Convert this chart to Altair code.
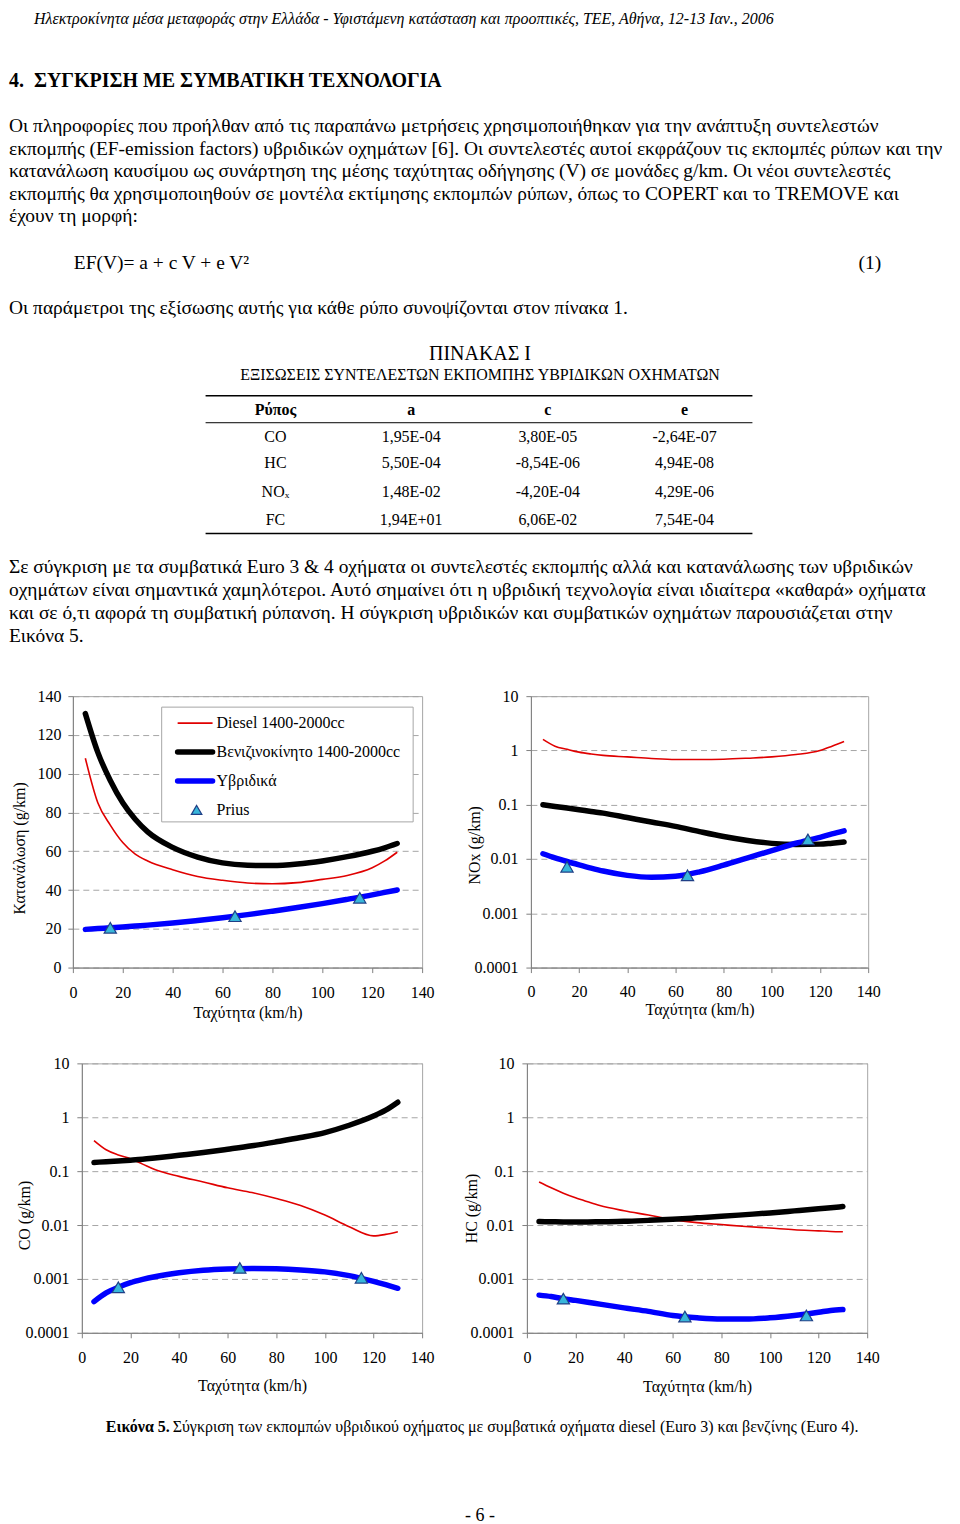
import altair as alt
import pandas as pd

FONT = "Liberation Serif"

# ---------------- chart data ----------------
speeds = [5, 10, 15, 20, 25, 30, 40, 50, 60, 70, 80, 90, 100, 110, 120, 125, 130]
prius_speeds = [15, 65, 115]

series_names = ["Diesel 1400-2000cc", "Βενιζινοκίνητο 1400-2000cc", "Υβριδικά", "Prius"]

# Fuel consumption (g/km)
fc_diesel = [108, 85, 73.5, 64.5, 58.5, 55, 50.5, 47, 45, 43.6, 43.2, 43.8, 45.5, 47.5, 51.5, 55, 59.5]
fc_petrol = [131, 111, 96.5, 85, 76.5, 70, 62, 57, 54, 52.8, 52.6, 53.4, 55, 57.2, 60, 61.8, 64]
fc_hybrid = [19.7, 20.1, 20.5, 20.9, 21.4, 21.9, 23.0, 24.3, 25.7, 27.3, 29.1, 31.0, 33.0, 35.2, 37.5, 38.8, 40.0]
fc_prius = [20.5, 26.5, 36]

# NOx (g/km)
nox_diesel = [1.6, 1.2, 1.05, 0.93, 0.86, 0.81, 0.76, 0.71, 0.68, 0.68, 0.69, 0.72, 0.76, 0.84, 1.0, 1.2, 1.46]
nox_petrol = [0.1, 0.093, 0.087, 0.081, 0.075, 0.07, 0.058, 0.048, 0.040, 0.032, 0.026, 0.022, 0.0194, 0.0185, 0.0188, 0.0196, 0.0205]
nox_hybrid = [0.0125, 0.0105, 0.009, 0.0078, 0.0068, 0.006, 0.005, 0.0046, 0.0048, 0.0058, 0.0077, 0.0105, 0.0143, 0.0195, 0.025, 0.029, 0.033]
nox_prius = [0.0072, 0.005, 0.023]

# CO (g/km)
co_diesel = [0.37, 0.25, 0.2, 0.17, 0.135, 0.107, 0.08, 0.063, 0.049, 0.04, 0.031, 0.023, 0.0153, 0.0093, 0.0063, 0.0067, 0.0075]
co_petrol = [0.145, 0.15, 0.155, 0.16, 0.166, 0.175, 0.197, 0.222, 0.255, 0.295, 0.35, 0.42, 0.52, 0.71, 1.05, 1.35, 1.9]
co_hybrid = [0.00038, 0.00055, 0.0007, 0.00085, 0.00098, 0.0011, 0.0013, 0.00145, 0.00153, 0.00156, 0.00154, 0.00147, 0.00135, 0.00115, 0.0009, 0.00078, 0.00067]
co_prius = [0.0007, 0.0016, 0.00105]

# HC (g/km)
hc_diesel = [0.063, 0.049, 0.039, 0.032, 0.027, 0.023, 0.0184, 0.0153, 0.0126, 0.0111, 0.0102, 0.0094, 0.0088, 0.0082, 0.0078, 0.0076, 0.0075]
hc_petrol = [0.0116, 0.0115, 0.0114, 0.0114, 0.0114, 0.0115, 0.0117, 0.0122, 0.0128, 0.0136, 0.0145, 0.0156, 0.0168, 0.0183, 0.02, 0.021, 0.022]
hc_hybrid = [0.0005, 0.00047, 0.00043, 0.0004, 0.00037, 0.00034, 0.00029, 0.00025, 0.00021, 0.00019, 0.00018, 0.00018, 0.00019, 0.00021, 0.00024, 0.00026, 0.00027]
hc_prius = [0.00043, 0.0002, 0.00021]

# ---------------- page text ----------------
header_text = "Ηλεκτροκίνητα μέσα μεταφοράς στην Ελλάδα - Υφιστάμενη κατάσταση και προοπτικές, ΤΕΕ, Αθήνα, 12-13 Ιαν., 2006"
section_title = "4.\u00a0\u00a0ΣΥΓΚΡΙΣΗ ΜΕ ΣΥΜΒΑΤΙΚΗ ΤΕΧΝΟΛΟΓΙΑ"
para1_lines = [
    "Οι πληροφορίες που προήλθαν από τις παραπάνω μετρήσεις χρησιμοποιήθηκαν για την ανάπτυξη συντελεστών",
    "εκπομπής (EF-emission factors) υβριδικών οχημάτων [6]. Οι συντελεστές αυτοί εκφράζουν τις εκπομπές ρύπων και την",
    "κατανάλωση καυσίμου ως συνάρτηση της μέσης ταχύτητας οδήγησης (V) σε μονάδες g/km. Οι νέοι συντελεστές",
    "εκπομπής θα χρησιμοποιηθούν σε μοντέλα εκτίμησης εκπομπών ρύπων, όπως το COPERT και το TREMOVE και",
    "έχουν τη μορφή:",
]
equation_text = "EF(V)= a + c V + e V²"
equation_number = "(1)"
table_intro = "Οι παράμετροι της εξίσωσης αυτής για κάθε ρύπο συνοψίζονται στον πίνακα 1."
table_title = "ΠΙΝΑΚΑΣ Ι"
table_subtitle = "ΕΞΙΣΩΣΕΙΣ ΣΥΝΤΕΛΕΣΤΩΝ ΕΚΠΟΜΠΗΣ ΥΒΡΙΔΙΚΩΝ ΟΧΗΜΑΤΩΝ"
table_header = ["Ρύπος", "a", "c", "e"]
table_pollutants = ["CO", "HC", "NOₓ", "FC"]
table_a = ["1,95E-04", "5,50E-04", "1,48E-02", "1,94E+01"]
table_c = ["3,80E-05", "-8,54E-06", "-4,20E-04", "6,06E-02"]
table_e = ["-2,64E-07", "4,94E-08", "4,29E-06", "7,54E-04"]
para2_lines = [
    "Σε σύγκριση με τα συμβατικά Euro 3 & 4 οχήματα οι συντελεστές εκπομπής αλλά και κατανάλωσης των υβριδικών",
    "οχημάτων είναι σημαντικά χαμηλότεροι. Αυτό σημαίνει ότι η υβριδική τεχνολογία είναι ιδιαίτερα «καθαρά» οχήματα",
    "και σε ό,τι αφορά τη συμβατική ρύπανση. Η σύγκριση υβριδικών και συμβατικών οχημάτων παρουσιάζεται στην",
    "Εικόνα 5.",
]
caption_bold = "Εικόνα 5."
caption_rest = "Σύγκριση των εκπομπών υβριδικού οχήματος με συμβατικά οχήματα diesel (Euro 3) και βενζίνης (Euro 4)."
page_number = "- 6 -"

x_title = "Ταχύτητα (km/h)"

RED = "#E00000"
BLACK = "#000000"
BLUE = "#0000FF"
PRIUS_FILL = "#38B6DA"
PRIUS_STROKE = "#1F3F86"
GRID = "#A6A6A6"
AXIS = "#808080"


def one_row():
    return pd.DataFrame({"k": [0]})


def text_layer(df, **kw):
    return alt.Chart(df).mark_text(font=FONT, color="black", **kw).encode(
        x=alt.X("x:Q", scale=None, axis=None),
        y=alt.Y("y:Q", scale=None, axis=None),
        text="text:N",
    )


def panel(diesel, petrol, hybrid, prius, y_title, log, w, h,
          ytitle_x, ytitle_y, xtitle_y, xlab_pad, ylab_pad, legend=False):
    rows = []
    for name, vals in zip(series_names[:3], [diesel, petrol, hybrid]):
        for s, v in zip(speeds, vals):
            rows.append({"speed": s, "value": v, "series": name})
    df = pd.DataFrame(rows)
    pdf = pd.DataFrame({"speed": prius_speeds, "value": prius})

    if log:
        yscale = alt.Scale(type="log", domain=[0.0001, 10], nice=False)
        yvals = [0.0001, 0.001, 0.01, 0.1, 1, 10]
        fmt = "~g"
    else:
        yscale = alt.Scale(domain=[0, 140], nice=False, zero=True)
        yvals = list(range(0, 141, 20))
        fmt = "d"

    xenc = alt.X(
        "speed:Q",
        scale=alt.Scale(domain=[0, 140], nice=False),
        axis=alt.Axis(
            values=list(range(0, 141, 20)), format="d", title=x_title, grid=False,
            tickSize=5, tickColor=AXIS, domainColor=AXIS, labelFlush=False,
            labelOverlap=False, labelPadding=xlab_pad, labelFont=FONT, labelFontSize=16,
            labelColor="black", titleFont=FONT, titleFontSize=16, titleFontWeight="normal",
            titleColor="black", titleY=xtitle_y, titleBaseline="top",
        ),
    )
    yenc = alt.Y(
        "value:Q",
        scale=yscale,
        axis=alt.Axis(
            values=yvals, format=fmt, title=y_title, grid=True, gridColor=GRID,
            gridDash=[6, 4], gridWidth=1, tickSize=5, tickColor=AXIS, domainColor=AXIS,
            labelOverlap=False, labelPadding=ylab_pad, labelFont=FONT, labelFontSize=16,
            labelColor="black", titleFont=FONT, titleFontSize=16, titleFontWeight="normal",
            titleColor="black", titleX=ytitle_x, titleY=ytitle_y,
        ),
    )
    base = alt.Chart(df).encode(x=xenc, y=yenc, order="speed:Q")
    red = base.transform_filter(alt.datum.series == series_names[0]).mark_line(
        color=RED, strokeWidth=1.6, interpolate="monotone")
    blk = base.transform_filter(alt.datum.series == series_names[1]).mark_line(
        color=BLACK, strokeWidth=5.5, interpolate="monotone", strokeCap="round")
    blu = base.transform_filter(alt.datum.series == series_names[2]).mark_line(
        color=BLUE, strokeWidth=5.5, interpolate="monotone", strokeCap="round")
    pts = alt.Chart(pdf).mark_point(
        shape="triangle-up", filled=True, fill=PRIUS_FILL, stroke=PRIUS_STROKE,
        strokeWidth=1.2, size=150, opacity=1,
    ).encode(x=xenc, y=yenc)
    layers = [red, blk, blu, pts]

    if legend:
        box = alt.Chart(one_row()).mark_rect(fill="white", stroke="#A6A6A6", strokeWidth=1).encode(
            x=alt.value(89), x2=alt.value(341), y=alt.value(11), y2=alt.value(126))
        layers.append(box)
        styles = [(RED, 1.6), (BLACK, 5.5), (BLUE, 5.5)]
        for i, name in enumerate(series_names):
            yy = 27 + i * 29
            if i < 3:
                col, sw = styles[i]
                layers.append(alt.Chart(one_row()).mark_rule(
                    color=col, strokeWidth=sw, strokeCap="round" if sw > 2 else "butt").encode(
                    x=alt.value(105), x2=alt.value(140), y=alt.value(yy)))
            else:
                layers.append(alt.Chart(one_row()).mark_point(
                    shape="triangle-up", filled=True, fill=PRIUS_FILL, stroke=PRIUS_STROKE,
                    strokeWidth=1.2, size=110, opacity=1).encode(x=alt.value(124), y=alt.value(yy)))
            layers.append(alt.Chart(one_row()).mark_text(
                font=FONT, fontSize=16, align="left", baseline="middle", color="black").encode(
                x=alt.value(144), y=alt.value(yy), text=alt.value(name)))

    return alt.layer(*layers).properties(
        width=w, height=h, view=alt.ViewBackground(stroke=GRID, strokeWidth=1))


def spacer(w, h=1):
    return alt.Chart(one_row()).mark_point(opacity=0, size=0, strokeWidth=0).encode(
        x=alt.value(1), y=alt.value(0.5)).properties(width=w, height=h)


# ---------------- top text block ----------------
top_layers = []
top_layers.append(text_layer(pd.DataFrame({"x": [25], "y": [8], "text": [header_text]}),
                             fontSize=16, fontStyle="italic", align="left", baseline="middle"))
top_layers.append(text_layer(pd.DataFrame({"x": [0], "y": [71], "text": [section_title]}),
                             fontSize=20, fontWeight="bold", align="left", baseline="middle"))
p1 = pd.DataFrame({"x": [0] * len(para1_lines),
                   "y": [116 + i * 22.5 for i in range(len(para1_lines))],
                   "text": para1_lines})
top_layers.append(text_layer(p1, fontSize=19.5, align="left", baseline="middle"))
top_layers.append(text_layer(pd.DataFrame({"x": [65, 0], "y": [253, 298],
                                           "text": [equation_text, table_intro]}),
                             fontSize=19.5, align="left", baseline="middle"))
top_layers.append(text_layer(pd.DataFrame({"x": [874], "y": [253], "text": [equation_number]}),
                             fontSize=19.5, align="right", baseline="middle"))
top_layers.append(text_layer(pd.DataFrame({"x": [472], "y": [344], "text": [table_title]}),
                             fontSize=20, align="center", baseline="middle"))
top_layers.append(text_layer(pd.DataFrame({"x": [472], "y": [365], "text": [table_subtitle]}),
                             fontSize=16, align="center", baseline="middle"))
col_x = [267, 403, 540, 677]
top_layers.append(text_layer(pd.DataFrame({"x": col_x, "y": [400] * 4, "text": table_header}),
                             fontSize=16, fontWeight="bold", align="center", baseline="middle"))
cells = []
row_y = [427, 453, 482, 510]
for ci, col in enumerate([table_pollutants, table_a, table_c, table_e]):
    for ri, val in enumerate(col):
        cells.append({"x": col_x[ci], "y": row_y[ri], "text": val})
top_layers.append(text_layer(pd.DataFrame(cells), fontSize=16, align="center", baseline="middle"))
rules = pd.DataFrame({"x": [197, 197, 197], "x2": [745, 745, 745], "y": [386, 413, 524],
                      "w": [1.6, 1.0, 1.6]})
top_layers.append(alt.Chart(rules).mark_rule(color="black").encode(
    x=alt.X("x:Q", scale=None, axis=None), x2="x2:Q",
    y=alt.Y("y:Q", scale=None, axis=None),
    strokeWidth=alt.StrokeWidth("w:Q", scale=None, legend=None)))
p2 = pd.DataFrame({"x": [0] * len(para2_lines),
                   "y": [558 + i * 23 for i in range(len(para2_lines))],
                   "text": para2_lines})
top_layers.append(text_layer(p2, fontSize=19.5, align="left", baseline="middle"))
top = alt.layer(*top_layers).properties(width=944, height=677)

# ---------------- charts ----------------
fc_chart = panel(fc_diesel, fc_petrol, fc_hybrid, fc_prius, "Κατανάλωση (g/km)", False,
                 350, 272, -45, 152, 37, 12, 7, legend=True)
nox_chart = panel(nox_diesel, nox_petrol, nox_hybrid, nox_prius, "NOx (g/km)", True,
                  338, 272, -49, 149, 34, 11, 8)
co_chart = panel(co_diesel, co_petrol, co_hybrid, co_prius, "CO (g/km)", True,
                 341, 270, -49, 152, 45, 12, 8)
hc_chart = panel(hc_diesel, hc_petrol, hc_hybrid, hc_prius, "HC (g/km)", True,
                 341, 270, -48, 145, 46, 12, 8)

row1 = alt.hconcat(spacer(1), alt.hconcat(fc_chart, nox_chart, spacing=30), spacing=0)
row2 = alt.hconcat(spacer(6), alt.hconcat(co_chart, hc_chart, spacing=27), spacing=0)
rows = alt.vconcat(row1, row2, spacing=33)

# ---------------- bottom text ----------------
bottom = alt.layer(
    text_layer(pd.DataFrame({"x": [97], "y": [30], "text": [caption_bold]}),
               fontSize=16, fontWeight="bold", align="left", baseline="middle"),
    text_layer(pd.DataFrame({"x": [164], "y": [30], "text": [caption_rest]}),
               fontSize=16, align="left", baseline="middle"),
    text_layer(pd.DataFrame({"x": [472], "y": [120], "text": [page_number]}),
               fontSize=18, align="center", baseline="middle"),
).properties(width=944, height=126)

chart = alt.vconcat(top, rows, bottom, spacing=0).properties(
    padding={"left": 0, "top": 0, "right": 0, "bottom": 0}, background="white"
).configure_view(stroke="transparent")

chart.save("out.html", embed_options={"renderer": "svg", "actions": False})
